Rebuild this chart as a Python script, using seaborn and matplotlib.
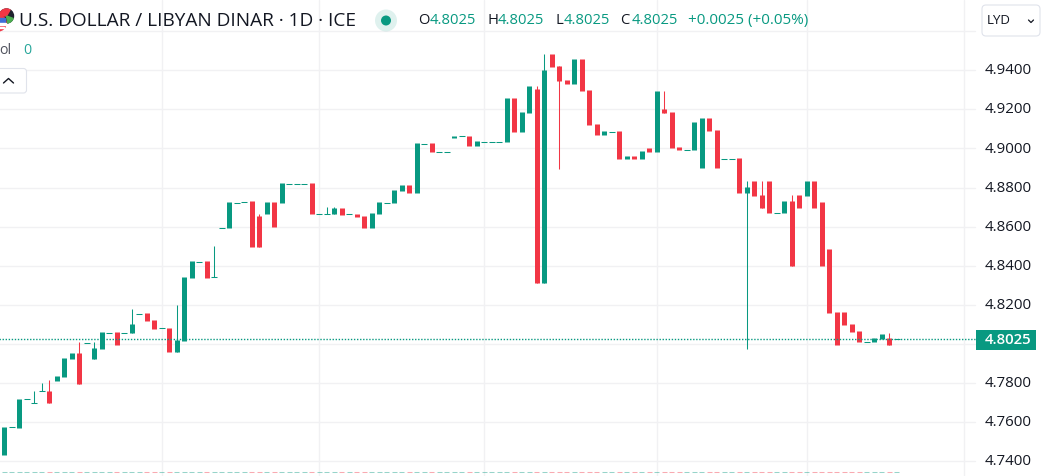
import matplotlib
matplotlib.use('agg')
import matplotlib.pyplot as plt
from matplotlib.patches import Circle, FancyBboxPatch, Rectangle, Wedge
import numpy as np
import pandas as pd
import seaborn as sns

# candles. open == close means a flat dash
opens = [4.7431, 4.7574, 4.7569, 4.7716, 4.7700, 4.7757, 4.7758, 4.7809, 4.7830, 4.7922,
         4.7952, 4.8007, 4.7922, 4.7973, 4.8058, 4.8060, 4.8058, 4.8055, 4.8155, 4.8157,
         4.8121, 4.8079, 4.8080, 4.7958, 4.8014, 4.8336, 4.8421, 4.8423, 4.8340, 4.8595,
         4.8592, 4.8723, 4.8728, 4.8730, 4.8653, 4.8663, 4.8725, 4.8720, 4.8820, 4.8820,
         4.8820, 4.8822, 4.8667, 4.8667, 4.8663, 4.8694, 4.8662, 4.8663, 4.8653, 4.8592,
         4.8663, 4.8723, 4.8720, 4.8781, 4.8812, 4.8771, 4.9025, 4.9027, 4.8984, 4.8984,
         4.9052, 4.9061, 4.9062, 4.9011, 4.9035, 4.9035, 4.9035, 4.9032, 4.9257, 4.9083,
         4.9180, 4.9303, 4.8310, 4.9482, 4.9420, 4.9349, 4.9328, 4.9456, 4.9298, 4.9124,
         4.9068, 4.9086, 4.9088, 4.8945, 4.8960, 4.8945, 4.9001, 4.8981, 4.9201, 4.9185,
         4.9006, 4.8994, 4.8991, 4.8899, 4.9155, 4.9093, 4.8948, 4.8948, 4.8950, 4.8771,
         4.8832, 4.8761, 4.8832, 4.8670, 4.8669, 4.8730, 4.8761, 4.8755, 4.8832, 4.8725,
         4.8484, 4.8162, 4.8162, 4.8101, 4.8065, 4.8010, 4.8009, 4.8024, 4.8029, 4.8025]
closes = [4.7574, 4.7574, 4.7717, 4.7716, 4.7700, 4.7757, 4.7697, 4.7835, 4.7927, 4.7952,
          4.7794, 4.8007, 4.7978, 4.8060, 4.8058, 4.7993, 4.8058, 4.8101, 4.8155, 4.8116,
          4.8075, 4.8079, 4.7958, 4.8019, 4.8341, 4.8423, 4.8421, 4.8336, 4.8340, 4.8595,
          4.8725, 4.8723, 4.8728, 4.8496, 4.8496, 4.8725, 4.8597, 4.8822, 4.8820, 4.8820,
          4.8820, 4.8663, 4.8667, 4.8667, 4.8694, 4.8658, 4.8662, 4.8648, 4.8592, 4.8669,
          4.8725, 4.8723, 4.8786, 4.8812, 4.8771, 4.9027, 4.9025, 4.8981, 4.8984, 4.8984,
          4.9062, 4.9061, 4.9011, 4.9037, 4.9035, 4.9035, 4.9035, 4.9257, 4.9083, 4.9185,
          4.9318, 4.8310, 4.9400, 4.9415, 4.9344, 4.9328, 4.9456, 4.9293, 4.9119, 4.9068,
          4.9088, 4.9086, 4.8945, 4.8960, 4.8945, 4.8986, 4.8981, 4.9293, 4.9180, 4.9001,
          4.8991, 4.8994, 4.9134, 4.9155, 4.9088, 4.8899, 4.8948, 4.8948, 4.8771, 4.8802,
          4.8755, 4.8694, 4.8669, 4.8670, 4.8730, 4.8397, 4.8694, 4.8832, 4.8694, 4.8397,
          4.8157, 4.7993, 4.8096, 4.8060, 4.8009, 4.8010, 4.8029, 4.8050, 4.7993, 4.8025]
wick_high = {4: 4.7758, 5: 4.7798, 6: 4.7814, 10: 4.8009, 12: 4.8009, 17: 4.8178, 23: 4.8198,
             28: 4.8500, 34: 4.8667, 43: 4.8698, 44: 4.8698, 71: 4.9318, 72: 4.9482, 88: 4.9293,
             99: 4.8832, 101: 4.8832, 105: 4.8761, 118: 4.8055}
wick_low = {74: 4.8894, 99: 4.7973}

grid_prices = [4.96, 4.94, 4.92, 4.90, 4.88, 4.86, 4.84, 4.82, 4.80, 4.78, 4.76, 4.74]
# 4.8000 sits under the last price label, so the scale does not show it
label_prices = [4.94, 4.92, 4.90, 4.88, 4.86, 4.84, 4.82, 4.78, 4.76, 4.74]
tick_labels = ['4.9400', '4.9200', '4.9000', '4.8800', '4.8600', '4.8400', '4.8200',
               '4.7800', '4.7600', '4.7400']
time_ticks = [21, 42, 64, 87, 107, 128]
last_price = 4.8025
volume_y = 4.7347

GREEN = '#089981'
RED = '#F23645'
GRID = '#F1F1F3'
TEXT = '#131722'
W, H = 1041, 476

sns.set_theme(style='white')
plt.rcParams['font.family'] = ['Open Sans', 'DejaVu Sans']

df = pd.DataFrame({'i': np.arange(len(opens)), 'open': opens, 'close': closes})
df['dir'] = np.where(df['close'] >= df['open'], 'up', 'down')
df['high'] = [wick_high.get(i, max(o, c)) for i, o, c in zip(df['i'], df['open'], df['close'])]
df['low'] = [wick_low.get(i, min(o, c)) for i, o, c in zip(df['i'], df['open'], df['close'])]
palette = {'up': GREEN, 'down': RED}

fig = plt.figure(figsize=(W / 100, H / 100), dpi=100, facecolor='white')
ax = fig.add_axes([0, 0, 1, 1])

# grid, horizontal lines stop at the price scale
for p in grid_prices:
    ax.plot([-1, 129.5], [p, p], color=GRID, lw=1.0, zorder=0)
for t in time_ticks:
    ax.axvline(t, color=GRID, lw=1.0, zorder=0)

# wicks
wicks = df[df['high'].gt(df[['open', 'close']].max(axis=1)) | df['low'].lt(df[['open', 'close']].min(axis=1))]
wicks = wicks.melt(id_vars=['i', 'dir'], value_vars=['low', 'high'], value_name='price').sort_values('i')
sns.lineplot(data=wicks, x='i', y='price', units='i', estimator=None, hue='dir', palette=palette,
             linewidth=0.75, legend=False, ax=ax, zorder=3, solid_capstyle='butt')

# bodies
bodies = df[df['open'] != df['close']]
bodies = bodies.melt(id_vars=['i', 'dir'], value_vars=['open', 'close'], value_name='price').sort_values('i')
sns.lineplot(data=bodies, x='i', y='price', units='i', estimator=None, hue='dir', palette=palette,
             linewidth=3.6, legend=False, ax=ax, zorder=4, solid_capstyle='butt')

# flat candles
flat = df[df['open'] == df['close']]
sns.scatterplot(data=flat, x='i', y='close', marker='_', s=13, linewidth=0.75, color=GREEN,
                legend=False, ax=ax, zorder=4)

# zero volume strip along the bottom
vol = df.assign(y=volume_y)
sns.scatterplot(data=vol, x='i', y='y', hue='dir', palette=palette, marker='_', s=13, linewidth=0.75,
                alpha=0.42, legend=False, ax=ax, zorder=2)

ax.plot([-1, 129.5], [last_price, last_price], color=GREEN, lw=1.0, ls=(0, (1, 1.2)), zorder=5)

ax.set_xlim(-0.6, 138.25)
ax.set_ylim(4.94 - 405.8 / 1955, 4.94 + 70.2 / 1955)
ax.set_axis_off()

# overlay in pixel coordinates for the header and price scale
ui = fig.add_axes([0, 0, 1, 1], facecolor='none')
ui.set_xlim(0, W)
ui.set_ylim(H, 0)
ui.set_axis_off()

for lab, p in zip(tick_labels, label_prices):
    ui.text(985, 70.2 + (4.94 - p) * 1955 + 0.6, lab, fontsize=10.8, color=TEXT, va='center', ha='left')

ui.add_patch(Rectangle((976, 329.5), 60, 20.5, color=GREEN, lw=0, zorder=6))
ui.text(985, 340, '4.8025', fontsize=10.8, color='white', va='center', ha='left', weight='semibold', zorder=7)

# flags
ui.add_patch(Circle((6.5, 16), 7, color='#1E222D', zorder=6))
ui.add_patch(Wedge((6.5, 16), 7, 180, 300, color=RED, zorder=6))
ui.add_patch(Wedge((6.5, 16), 7, 20, 80, color='#4CAF50', zorder=6))
ui.add_patch(Circle((-2, 23), 8, color=RED, zorder=7))
ui.add_patch(Rectangle((-2, 18), 7, 4, color='#3F6FD8', zorder=8))
ui.add_patch(Rectangle((-2, 23), 8, 1.5, color='white', zorder=8))
ui.add_patch(Rectangle((-2, 26.5), 6, 1.5, color='white', zorder=8))

ui.text(19, 21, 'U.S. DOLLAR / LIBYAN DINAR · 1D · ICE', fontsize=13.7, color=TEXT, va='center', ha='left')

ui.add_patch(Circle((386, 20.5), 11, color=GREEN, alpha=0.13, lw=0))
ui.add_patch(Circle((386, 20.5), 5, color=GREEN, lw=0))

for x, s, c in [(418.5, 'O', TEXT), (429.6, '4.8025', GREEN), (487.5, 'H', TEXT), (498, '4.8025', GREEN),
                (555.6, 'L', TEXT), (564, '4.8025', GREEN), (620.6, 'C', TEXT), (631.6, '4.8025', GREEN)]:
    ui.text(x, 20.5, s, fontsize=10.6, color=c, va='center', ha='left')
ui.text(688, 20.5, '+0.0025 (+0.05%)', fontsize=10.95, color=GREEN, va='center', ha='left')

ui.add_patch(FancyBboxPatch((985, 8), 52, 25, boxstyle='round,pad=3,rounding_size=4', fc='white', ec='#E0E3EB', lw=0.8))
ui.text(987, 21, 'LYD', fontsize=9.6, color=TEXT, va='center', ha='left')
ui.plot([1028.5, 1031, 1033.5], [20, 22.5, 20], color=TEXT, lw=0.9)

ui.text(-1, 50.5, 'ol', fontsize=10.2, color='#50535E', va='center', ha='left')
ui.text(23, 50.5, '0', fontsize=10.2, color='#26A69A', va='center', ha='left')
ui.add_patch(FancyBboxPatch((-8, 71), 32, 19.5, boxstyle='round,pad=2.5,rounding_size=3', fc='white', ec='#E0E3EB', lw=0.8))
ui.plot([3.5, 8.5, 13.5], [83, 78.5, 83], color=TEXT, lw=1.0)

fig.savefig('out.png', dpi=100)
